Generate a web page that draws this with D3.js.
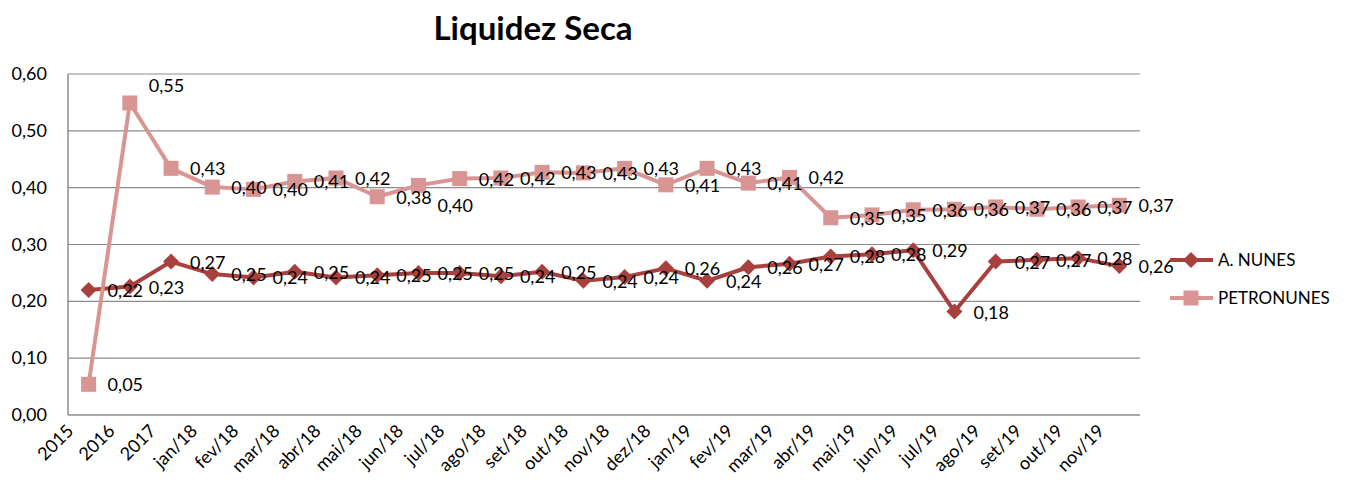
<!DOCTYPE html>
<html>
<head>
<meta charset="utf-8">
<script src="https://cdn.jsdelivr.net/npm/d3@7"></script>
<style>
  body { margin: 0; background: #fff; }
  text { font-family: Lato, "Open Sans", sans-serif; fill: #000; }
</style>
</head>
<body>
<div id="chart"></div>
<script>
var categories = ['2015', '2016', '2017', 'jan/18', 'fev/18', 'mar/18', 'abr/18', 'mai/18', 'jun/18', 'jul/18',
  'ago/18', 'set/18', 'out/18', 'nov/18', 'dez/18', 'jan/19', 'fev/19', 'mar/19', 'abr/19', 'mai/19',
  'jun/19', 'jul/19', 'ago/19', 'set/19', 'out/19', 'nov/19'];
var aNunes = [0.220, 0.226, 0.270, 0.248, 0.242, 0.252, 0.242, 0.246, 0.250, 0.250,
  0.244, 0.252, 0.236, 0.243, 0.258, 0.236, 0.260, 0.266, 0.279, 0.283,
  0.290, 0.182, 0.270, 0.273, 0.276, 0.262];
var petronunes = [0.054, 0.549, 0.434, 0.401, 0.397, 0.411, 0.417, 0.384, 0.404, 0.416,
  0.417, 0.427, 0.426, 0.434, 0.405, 0.434, 0.408, 0.418, 0.347, 0.352,
  0.361, 0.362, 0.366, 0.362, 0.366, 0.369];
var yTicks = [0, 0.1, 0.2, 0.3, 0.4, 0.5, 0.6];

var width = 1352, height = 487;
var svg = d3.select('#chart').append('svg').attr('width', width).attr('height', height);

var x = d3.scaleBand().domain(categories).range([68, 1140]);
var y = d3.scaleLinear().domain([0, 0.6]).range([415, 74]);
var cx = d => x(d) + x.bandwidth() / 2;
var fmt = v => d3.format('.2f')(v).replace('.', ',');

// title
svg.append('text').attr('x', 533).attr('y', 40).attr('text-anchor', 'middle')
  .style('font-size', '33px').style('font-weight', 'bold').text('Liquidez Seca');

// grid + y labels
svg.append('g').selectAll('line').data(yTicks.slice(1)).enter().append('line')
  .attr('x1', 68).attr('x2', 1140).attr('y1', d => y(d)).attr('y2', d => y(d))
  .attr('stroke', '#8c8c8c').attr('stroke-width', 1.2);
svg.append('g').selectAll('text').data(yTicks).enter().append('text')
  .attr('x', 47).attr('y', d => y(d) + 6).attr('text-anchor', 'end')
  .style('font-size', '18px').text(fmt);

// axes lines
svg.append('line').attr('x1', 68).attr('x2', 68).attr('y1', 74).attr('y2', 415)
  .attr('stroke', '#8c8c8c').attr('stroke-width', 1.5);
svg.append('line').attr('x1', 68).attr('x2', 1140).attr('y1', 415).attr('y2', 415)
  .attr('stroke', '#8c8c8c').attr('stroke-width', 1.5);

// x labels
svg.append('g').selectAll('text').data(categories).enter().append('text')
  .attr('text-anchor', 'end')
  .attr('transform', d => `translate(${cx(d) - 14},${432})rotate(-45)`)
  .style('font-size', '18px').text(d => d);

var series = [
  { name: 'A. NUNES', values: aNunes, color: '#a8403e', shape: 'diamond' },
  { name: 'PETRONUNES', values: petronunes, color: '#d99594', shape: 'square' }
];
var labelNudge = { 'PETRONUNES': { 1: -18, 8: 20 } };

function marker(g, shape, color) {
  if (shape === 'square') {
    g.append('rect').attr('x', -7.5).attr('y', -7.5).attr('width', 15).attr('height', 15).attr('fill', color);
  } else {
    g.append('path').attr('d', 'M0,-8L8,0L0,8L-8,0Z').attr('fill', color);
  }
}

var line = d3.line().x((v, i) => cx(categories[i])).y(v => y(v));

series.forEach(s => {
  var g = svg.append('g');
  g.append('path').attr('d', line(s.values)).attr('fill', 'none')
    .attr('stroke', s.color).attr('stroke-width', 4).attr('stroke-linejoin', 'round');
  s.values.forEach((v, i) => {
    var m = g.append('g').attr('transform', `translate(${cx(categories[i])},${y(v)})`);
    marker(m, s.shape, s.color);
  });
});

// data labels on top
series.forEach(s => {
  var nudge = labelNudge[s.name] || {};
  svg.append('g').selectAll('text').data(s.values).enter().append('text')
    .attr('x', (v, i) => cx(categories[i]) + 19)
    .attr('y', (v, i) => y(v) + 7 + (nudge[i] || 0))
    .style('font-size', '18px').text(fmt);
});

// legend
var legend = svg.append('g');
series.forEach((s, i) => {
  var ly = 260 + i * 38;
  legend.append('line').attr('x1', 1170).attr('x2', 1213).attr('y1', ly).attr('y2', ly)
    .attr('stroke', s.color).attr('stroke-width', 4);
  var m = legend.append('g').attr('transform', `translate(1191,${ly})`);
  marker(m, s.shape, s.color);
  legend.append('text').attr('x', 1218).attr('y', ly + 6).style('font-size', '17px').text(s.name);
});
</script>
</body>
</html>
